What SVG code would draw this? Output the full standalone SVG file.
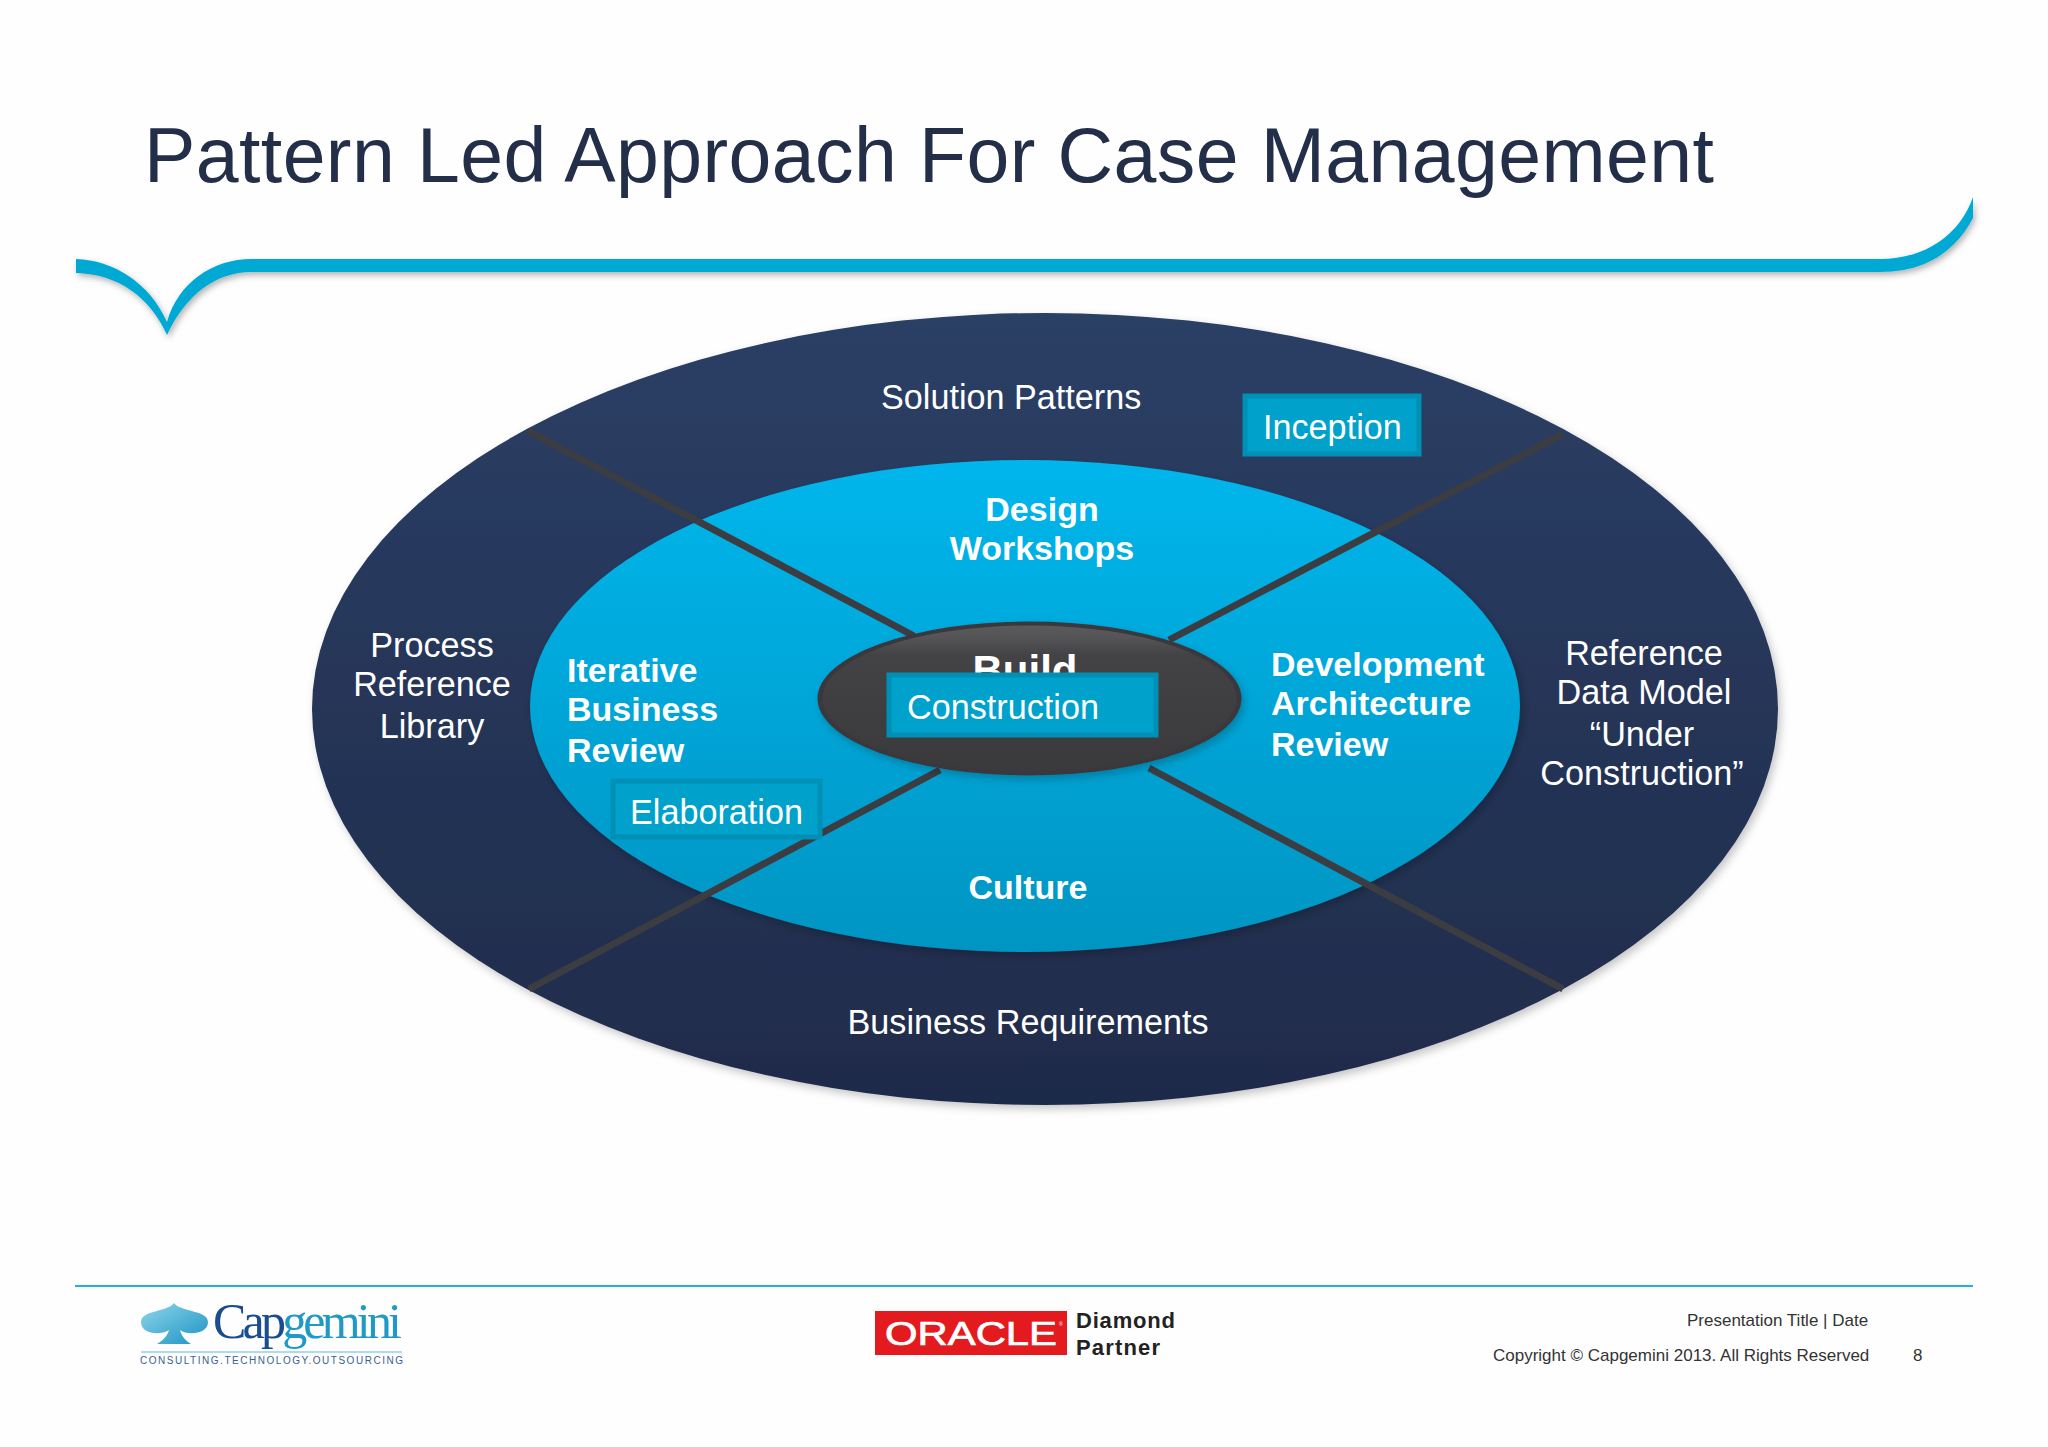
<svg xmlns="http://www.w3.org/2000/svg" width="2048" height="1447" viewBox="0 0 2048 1447">
<style>
text{font-family:"Liberation Sans",Arial,sans-serif}
.lbl{font-size:34.2px;fill:#fff}
.bold{font-size:34px;fill:#fff;font-weight:bold}
.mid{text-anchor:middle}
.tag{fill:#00a1cb;stroke:#008fb5;stroke-width:5}
.spoke{stroke:#3c3d42;stroke-width:7;fill:none}
.foot{font-size:17px;fill:#333}
.part{font-size:22px;font-weight:bold;fill:#222}
</style>
<defs>
<linearGradient id="gOuter" x1="0" y1="0" x2="0" y2="1"><stop offset="0" stop-color="#2b3f65"/><stop offset="1" stop-color="#1f2b4a"/></linearGradient>
<linearGradient id="gInner" x1="0" y1="0" x2="0" y2="1"><stop offset="0" stop-color="#00b6ec"/><stop offset="1" stop-color="#0095c3"/></linearGradient>
<linearGradient id="gHub" x1="0" y1="0" x2="0" y2="1"><stop offset="0" stop-color="#5a5a5c"/><stop offset="0.08" stop-color="#555557"/><stop offset="0.2" stop-color="#434244"/><stop offset="1" stop-color="#3a393c"/></linearGradient>
<linearGradient id="gSpade" x1="0" y1="0" x2="1" y2="1"><stop offset="0" stop-color="#8fd6ea"/><stop offset="1" stop-color="#1c93c4"/></linearGradient>
<filter id="shadow" x="-5%" y="-20%" width="110%" height="150%"><feDropShadow dx="2" dy="3" stdDeviation="3" flood-color="#000" flood-opacity="0.3"/></filter>
<filter id="softShadow" x="-5%" y="-5%" width="110%" height="112%"><feDropShadow dx="3" dy="4" stdDeviation="4" flood-color="#000" flood-opacity="0.22"/></filter>
</defs>
<rect width="2048" height="1447" fill="#fefefe"/>
<g id="title"><text x="144" y="182" font-size="77" fill="#232e48" textLength="1570" lengthAdjust="spacing">Pattern Led Approach For Case Management</text></g>
<g id="swoosh"><path filter="url(#shadow)" fill="#00a9d4" d="M76,259 C113,260 150,283 167,322 C178,283 212,259 252,259 L1880,259 C1925,259 1960,235 1973,197 L1973,218 C1955,252 1925,272 1880,272 L252,272 C215,272 186,295 167,335 C150,297 118,274 76,273 Z"/></g>
<g id="outer-ring"><ellipse cx="1045" cy="709" rx="733" ry="396" fill="url(#gOuter)" filter="url(#softShadow)"/></g>
<g id="inner-ring"><ellipse cx="1025" cy="706" rx="495" ry="246" fill="url(#gInner)" filter="url(#softShadow)"/></g>
<g id="connectors">
<line class="spoke" x1="528" y1="431" x2="914" y2="636"/>
<line class="spoke" x1="1563" y1="434" x2="1169" y2="640"/>
<line class="spoke" x1="529" y1="989" x2="940" y2="770"/>
<line class="spoke" x1="1563" y1="989" x2="1149" y2="768"/>
</g>
<g id="hub"><ellipse cx="1029.5" cy="698.5" rx="212" ry="77" fill="#3a393c" filter="url(#softShadow)"/><ellipse cx="1029.5" cy="698.5" rx="207" ry="73" fill="url(#gHub)"/><text x="1025" y="685" font-size="42" font-weight="bold" fill="#fff" class="mid">Build</text></g>
<g id="node-solution"><text class="lbl" x="881" y="409">Solution Patterns</text></g>
<g id="node-inception"><rect class="tag" x="1245" y="396" width="174" height="58"/><text class="lbl" x="1263" y="439">Inception</text></g>
<g id="node-design"><text class="bold mid" x="1042" y="521">Design</text><text class="bold mid" x="1042" y="560">Workshops</text></g>
<g id="node-iterative"><text class="bold" x="567" y="682">Iterative</text><text class="bold" x="567" y="721">Business</text><text class="bold" x="567" y="762">Review</text></g>
<g id="node-development"><text class="bold" x="1271" y="676">Development</text><text class="bold" x="1271" y="715">Architecture</text><text class="bold" x="1271" y="756">Review</text></g>
<g id="node-process"><text class="lbl mid" x="432" y="657">Process</text><text class="lbl mid" x="432" y="696">Reference</text><text class="lbl mid" x="432" y="738">Library</text></g>
<g id="node-reference"><text class="lbl mid" x="1644" y="665">Reference</text><text class="lbl mid" x="1644" y="704">Data Model</text><text class="lbl mid" x="1642" y="746">“Under</text><text class="lbl mid" x="1642" y="785">Construction”</text></g>
<g id="node-business"><text class="lbl mid" x="1028" y="1034">Business Requirements</text></g>
<g id="node-culture"><text class="bold mid" x="1028" y="899">Culture</text></g>
<g id="node-elaboration"><rect class="tag" x="613" y="781" width="207" height="56"/><text class="lbl" x="630" y="824">Elaboration</text></g>
<g id="node-construction"><rect class="tag" x="889" y="675" width="267" height="60"/><text class="lbl" x="907" y="719">Construction</text></g>
<g id="footer">
<line x1="75" y1="1286" x2="1973" y2="1286" stroke="#1fb2da" stroke-width="2"/>
<path fill="url(#gSpade)" d="M174,1303 C180,1312 208,1310 208,1322 C208,1334 188,1336 180,1330 C182,1337 186,1341 191,1344 L157,1344 C162,1341 167,1337 169,1330 C160,1336 141,1334 141,1322 C141,1310 168,1312 174,1303 Z"/>
<text x="213" y="1338" font-size="50" textLength="189" lengthAdjust="spacing" style="font-family:'Liberation Serif',serif"><tspan fill="#1a4c90">Cap</tspan><tspan fill="#2199c7">gemini</tspan></text>
<line x1="141" y1="1352" x2="402" y2="1352" stroke="#5cbcdc" stroke-width="1"/>
<text x="140" y="1364" font-size="10" fill="#3b5f94" textLength="263" lengthAdjust="spacing">CONSULTING.TECHNOLOGY.OUTSOURCING</text>
<rect x="875" y="1311" width="192" height="44" fill="#e41b1e"/>
<text x="885" y="1345" font-size="33" fill="#fff" stroke="#fff" stroke-width="0.7" textLength="172" lengthAdjust="spacingAndGlyphs">ORACLE</text>
<text x="1059" y="1326" font-size="5" fill="#fff">®</text>
<text class="part" x="1076" y="1328" textLength="99" lengthAdjust="spacing">Diamond</text>
<text class="part" x="1076" y="1355" textLength="84" lengthAdjust="spacing">Partner</text>
<text class="foot" x="1687" y="1326">Presentation Title | Date</text>
<text class="foot" x="1493" y="1361">Copyright © Capgemini 2013. All Rights Reserved</text>
<text class="foot" x="1913" y="1361">8</text>
</g>
</svg>
